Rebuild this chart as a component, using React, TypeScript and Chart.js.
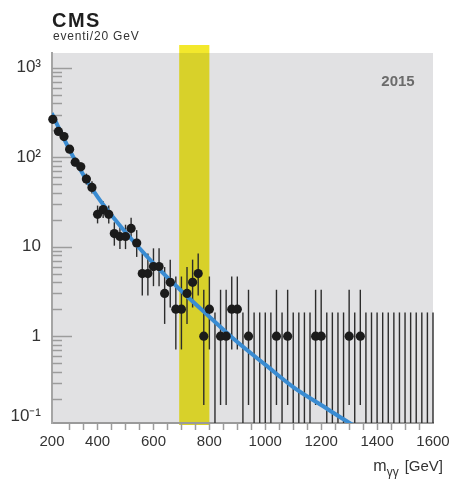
import React, { useEffect, useRef } from 'react';
import { Chart, registerables } from 'chart.js';

Chart.register(...registerables);

// Bin centres (GeV, 20 GeV bins)
const massBins = [
  240, 260, 280, 300, 320, 340, 360, 380, 400, 420,
  440, 460, 480, 500, 520, 540, 560, 580, 600, 620,
  640, 660, 680, 700, 720, 740, 760, 780, 800, 820,
  840, 860, 880, 900, 920, 940, 960, 980, 1000, 1020,
  1040, 1060, 1080, 1100, 1120, 1140, 1160, 1180, 1200, 1220,
  1240, 1260, 1280, 1300, 1320, 1340, 1360, 1380, 1400, 1420,
  1440, 1460, 1480, 1500, 1520, 1540, 1560, 1580, 1600,
];
// Events per bin
const eventCounts = [
  265, 194, 170, 123, 88, 78, 57, 46, 23, 26,
  23, 14, 13, 13, 16, 11, 5, 5, 6, 6,
  3, 4, 2, 2, 3, 4, 5, 1, 2, 0,
  1, 1, 2, 2, 0, 1, 0, 0, 0, 0,
  1, 0, 1, 0, 0, 0, 0, 1, 1, 0,
  0, 0, 0, 1, 0, 1, 0, 0, 0, 0,
  0, 0, 0, 0, 0, 0, 0, 0, 0,
];
// Poisson (Garwood) interval ends for small counts 0..6
const garwoodLow = [0, 0.17, 0.71, 1.37, 2.09, 2.84, 3.62];
const garwoodHigh = [1.84, 3.3, 4.64, 5.92, 7.16, 8.38, 9.58];

// Background fit curve
const fitMass = [236, 300, 350, 400, 450, 500, 600, 700, 800, 900, 1000, 1100, 1200, 1300, 1350];
const fitValues = [310, 120, 63, 36, 22.4, 14.5, 6.5, 3.2, 1.65, 0.86, 0.48, 0.27, 0.17, 0.108, 0.088];

// Highlighted mass window
const bandRange = [692, 800];

// Axes
const xMin = 237;
const xMax = 1600;
const xTickValues = [300, 350, 400, 450, 500, 550, 600, 650, 700, 750, 800, 850, 900, 950, 1000, 1050, 1100, 1150, 1200, 1250, 1300, 1350, 1400, 1450, 1500, 1550];
const xLabelValues = [400, 600, 800, 1000, 1200, 1400, 1600];
const yMin = 0.107;
const yMax = 1461;
const yTickValues = [0.127, 1, 10, 100, 1000];
const yTickLabels = ['10⁻¹', '1', '10', '10²', '10³'];
const yDecades = [0.1, 1, 10, 100, 1000];

const FONT = "'Liberation Sans', Arial, sans-serif";

function errLow(n: number) {
  return n < garwoodLow.length ? garwoodLow[n] : n - Math.sqrt(n);
}
function errHigh(n: number) {
  return n < garwoodHigh.length ? garwoodHigh[n] : n + Math.sqrt(n) + 1;
}

const decorPlugin = {
  id: 'decor',
  beforeDraw(chart: any) {
    const { ctx, chartArea: a, scales } = chart;
    const x = scales.x;
    ctx.save();
    ctx.fillStyle = '#e1e1e3';
    ctx.fillRect(a.left, a.top, a.right - a.left, a.bottom - a.top);
    const x0 = x.getPixelForValue(bandRange[0]);
    const x1 = x.getPixelForValue(bandRange[1]);
    ctx.fillStyle = '#f3e82c';
    ctx.fillRect(x0, a.top - 8, x1 - x0, 8);
    ctx.fillStyle = '#d8d12a';
    ctx.fillRect(x0, a.top, x1 - x0, a.bottom - a.top + 2);
    ctx.restore();
  },
  beforeDatasetsDraw(chart: any) {
    const { ctx, chartArea: a, scales } = chart;
    const x = scales.x;
    const y = scales.y;
    ctx.save();
    // inner log ticks on the y axis
    ctx.strokeStyle = '#9c9c9c';
    ctx.lineWidth = 1.5;
    for (const d of yDecades) {
      for (let k = 1; k <= 9; k++) {
        const v = k * d;
        if (v < yMin || v > yMax) continue;
        const py = Math.round(y.getPixelForValue(v)) + 0.5;
        const len = k === 1 ? 20 : 10;
        ctx.beginPath();
        ctx.moveTo(a.left, py);
        ctx.lineTo(a.left + len, py);
        ctx.stroke();
      }
    }
    // error bars
    ctx.strokeStyle = '#2c2c2c';
    ctx.lineWidth = 1.4;
    massBins.forEach((m, i) => {
      const n = eventCounts[i];
      const px = x.getPixelForValue(m);
      const lo = n === 0 ? a.bottom : Math.min(a.bottom, y.getPixelForValue(Math.max(errLow(n), yMin)));
      const hi = Math.max(a.top, y.getPixelForValue(errHigh(n)));
      ctx.beginPath();
      ctx.moveTo(px, lo);
      ctx.lineTo(px, hi);
      ctx.stroke();
    });
    ctx.restore();
  },
  afterDraw(chart: any) {
    const { ctx } = chart;
    ctx.save();
    ctx.fillStyle = '#1e1e1e';
    ctx.textBaseline = 'alphabetic';
    ctx.textAlign = 'left';
    (ctx as any).letterSpacing = '1.5px';
    ctx.font = `bold 20px ${FONT}`;
    ctx.fillText('CMS', 52, 27);
    (ctx as any).letterSpacing = '0.8px';
    ctx.font = `12px ${FONT}`;
    ctx.fillStyle = '#333';
    ctx.fillText('eventi/20 GeV', 53, 39.5);
    (ctx as any).letterSpacing = '0px';
    // year
    ctx.font = `bold 15px ${FONT}`;
    ctx.fillStyle = '#6b6b6b';
    ctx.textAlign = 'center';
    ctx.textBaseline = 'middle';
    ctx.fillText('2015', 398, 82);
    // x-axis title
    ctx.textBaseline = 'alphabetic';
    ctx.textAlign = 'left';
    ctx.fillStyle = '#333';
    ctx.font = `15px ${FONT}`;
    const right = 443;
    const unit = '[GeV]';
    const wUnit = ctx.measureText(unit).width;
    ctx.font = `12px ${FONT}`;
    const sub = 'γγ';
    const wSub = ctx.measureText(sub).width;
    ctx.font = `16px ${FONT}`;
    const wM = ctx.measureText('m').width;
    const gap = 6;
    let cx = right - wUnit - gap - wSub - wM;
    ctx.fillText('m', cx, 471);
    cx += wM;
    ctx.font = `12px ${FONT}`;
    ctx.fillText(sub, cx, 476);
    cx += wSub + gap;
    ctx.font = `15px ${FONT}`;
    ctx.fillText(unit, cx, 471);
    ctx.restore();
  },
};

export default function App() {
  const ref = useRef<HTMLCanvasElement | null>(null);

  useEffect(() => {
    const canvas = ref.current;
    if (!canvas) return;
    const points = massBins
      .map((m, i) => ({ x: m, y: eventCounts[i] }))
      .filter((p) => p.y > 0);
    const fit = fitMass.map((m, i) => ({ x: m, y: fitValues[i] }));

    const chart = new Chart(canvas, {
      type: 'scatter',
      data: {
        datasets: [
          {
            type: 'scatter',
            label: 'data',
            data: points,
            pointRadius: 4.6,
            pointBackgroundColor: '#1b1b1b',
            pointBorderWidth: 0,
            order: 0,
            clip: false as any,
          },
          {
            type: 'line',
            label: 'fit',
            data: fit,
            borderColor: '#3a8cd2',
            borderWidth: 4,
            pointRadius: 0,
            cubicInterpolationMode: 'monotone',
            fill: false,
            order: 1,
          } as any,
        ],
      },
      options: {
        animation: false,
        responsive: true,
        maintainAspectRatio: false,
        layout: { padding: { top: 53, right: 16, bottom: 0, left: 0 } },
        plugins: {
          legend: { display: false },
          tooltip: { enabled: false },
          title: { display: false },
        },
        scales: {
          x: {
            type: 'linear',
            min: xMin,
            max: xMax,
            afterBuildTicks: (s: any) => {
              s.ticks = [xMin, ...xTickValues, xMax].map((v) => ({ value: v }));
            },
            afterFit: (s: any) => {
              s.height = 59;
              s.paddingLeft = 0;
              s.paddingRight = 0;
            },
            ticks: {
              autoSkip: false,
              maxRotation: 0,
              minRotation: 0,
              padding: 3,
              color: '#333',
              font: { family: FONT, size: 15 },
              callback: (v: any) => {
                if (v === xMin) return '200';
                return xLabelValues.includes(v) ? String(v) : '';
              },
            },
            grid: {
              drawOnChartArea: false,
              drawTicks: true,
              tickLength: 7,
              tickWidth: 1.5,
              tickColor: (c: any) =>
                c.tick && (c.tick.value === xMin || c.tick.value === xMax) ? 'rgba(0,0,0,0)' : '#9c9c9c',
            },
            border: { color: '#9a9a9a', width: 2 },
          },
          y: {
            type: 'logarithmic',
            min: yMin,
            max: yMax,
            afterBuildTicks: (s: any) => {
              s.ticks = yTickValues.map((v) => ({ value: v }));
            },
            afterFit: (s: any) => {
              s.width = 52;
            },
            ticks: {
              autoSkip: false,
              padding: 11,
              color: '#333',
              font: { family: FONT, size: 17 },
              callback: (v: any) => {
                const idx = yTickValues.indexOf(v);
                return idx >= 0 ? yTickLabels[idx] : '';
              },
            },
            grid: { drawOnChartArea: false, drawTicks: false },
            border: { color: '#a5a5a5', width: 2 },
          },
        },
      },
      plugins: [decorPlugin],
    });
    return () => chart.destroy();
  }, []);

  return (
    <div style={{ position: 'fixed', left: 0, top: 0, width: 449, height: 482, background: '#fff' }}>
      <canvas ref={ref} />
    </div>
  );
}
